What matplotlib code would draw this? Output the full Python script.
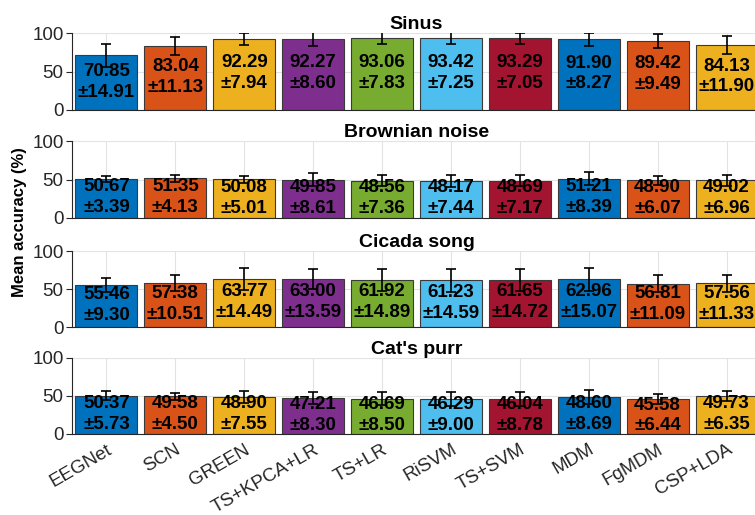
import matplotlib
matplotlib.use("Agg")
import matplotlib.pyplot as plt
import numpy as np

plt.rcParams['font.family'] = ['Liberation Sans', 'DejaVu Sans']

methods = ["EEGNet", "SCN", "GREEN", "TS+KPCA+LR", "TS+LR", "RiSVM",
           "TS+SVM", "MDM", "FgMDM", "CSP+LDA"]
conditions = ["Sinus", "Brownian noise", "Cicada song", "Cat's purr"]

sinus_mean = [70.85, 83.04, 92.29, 92.27, 93.06, 93.42, 93.29, 91.90, 89.42, 84.13]
sinus_std = [14.91, 11.13, 7.94, 8.60, 7.83, 7.25, 7.05, 8.27, 9.49, 11.90]
brown_mean = [50.67, 51.35, 50.08, 49.85, 48.56, 48.17, 48.69, 51.21, 48.90, 49.02]
brown_std = [3.39, 4.13, 5.01, 8.61, 7.36, 7.44, 7.17, 8.39, 6.07, 6.96]
cicada_mean = [55.46, 57.38, 63.77, 63.00, 61.92, 61.23, 61.65, 62.96, 56.81, 57.56]
cicada_std = [9.30, 10.51, 14.49, 13.59, 14.89, 14.59, 14.72, 15.07, 11.09, 11.33]
purr_mean = [50.37, 49.58, 48.90, 47.21, 46.69, 46.29, 46.04, 48.60, 45.58, 49.73]
purr_std = [5.73, 4.50, 7.55, 8.30, 8.50, 9.00, 8.78, 8.69, 6.44, 6.35]

means = [sinus_mean, brown_mean, cicada_mean, purr_mean]
stds = [sinus_std, brown_std, cicada_std, purr_std]

# matlab default colour order, wrapping after seven
colors = ["#0072BD", "#D95319", "#EDB120", "#7E2F8E", "#77AC30",
          "#4DBEEE", "#A2142F", "#0072BD", "#D95319", "#EDB120"]

fig = plt.figure(figsize=(7.55, 5.15), dpi=100)
W, H = 755, 515
left, width = 72 / W, 689 / W
panels = [(33, 110), (141, 218), (251, 327), (358, 434)]

x = np.arange(1, len(methods) + 1)
txt_col = "#262626"

for k, (top, bot) in enumerate(panels):
    ax = fig.add_axes([left, (H - bot) / H, width, (bot - top) / H])
    m = np.array(means[k])
    s = np.array(stds[k])
    ax.bar(x, m, width=0.9, color=colors, edgecolor="#3a3a3a", linewidth=0.8, zorder=2)
    ax.errorbar(x, m, yerr=s, fmt="none", ecolor="black", elinewidth=1.2,
                capsize=3.5, capthick=1.2, zorder=4)
    for xi, mi, si in zip(x, m, s):
        ax.text(xi, mi / 2 + 1.5, f"{mi:.2f}\n\u00b1{si:.2f}", ha="center", va="center",
                fontsize=13.5, fontweight="bold", color="black", linespacing=1.3,
                zorder=3)
    ax.set_xlim(0.5, 10.5)
    ax.set_ylim(0, 100)
    ax.set_yticks([0, 50, 100])
    ax.set_xticks(x)
    ax.grid(True, color="#e3e3e3", linewidth=0.8, zorder=0)
    ax.set_axisbelow(True)
    for side in ("top", "right"):
        ax.spines[side].set_visible(False)
    for side in ("left", "bottom"):
        ax.spines[side].set_color(txt_col)
        ax.spines[side].set_linewidth(0.8)
    ax.tick_params(axis="y", direction="out", length=4, width=0.8,
                   colors=txt_col, labelsize=13.5, pad=2)
    ax.tick_params(axis="x", length=0, colors=txt_col, labelsize=13.5, pad=5)
    ax.set_title(conditions[k], fontsize=14, fontweight="bold", pad=3)
    if k == len(panels) - 1:
        ax.set_xticklabels(methods, rotation=30, ha="right", rotation_mode="anchor")
    else:
        ax.set_xticklabels([])

fig.text(0.026, (H - 222) / H, "Mean accuracy (%)", rotation=90, ha="center",
         va="center", fontsize=12, fontweight="bold")

fig.savefig("out.png", dpi=100)
